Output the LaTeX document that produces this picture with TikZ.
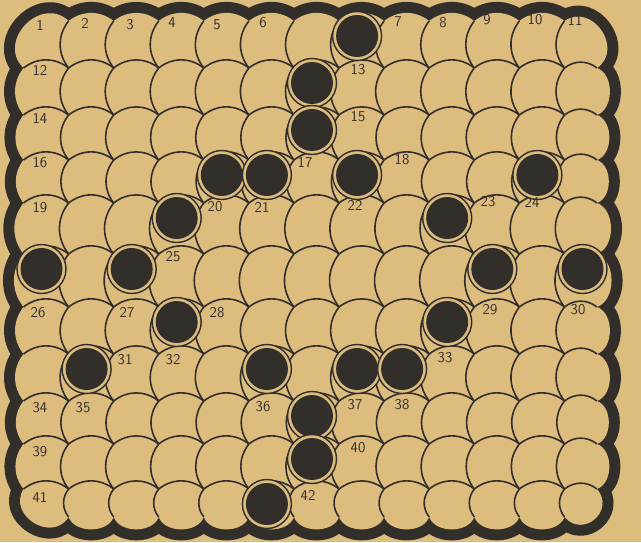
\documentclass[tikz,border=0pt]{standalone}
\definecolor{paper}{RGB}{221,189,126}
\definecolor{ink}{RGB}{50,46,42}
\tikzset{
  cellline/.style={draw=ink, line width=1.6pt},
  rimline/.style={preaction={draw=ink, line width=22pt, line join=round}, fill=paper},
  blackring/.style={draw=ink, fill=paper, line width=1.4pt},
  blackcore/.style={fill=ink},
  lbl/.style={font=\sffamily\fontsize{15}{15}\selectfont, text=ink, inner sep=0pt},
  sb/.style={bend left=38},
  rb/.style={bend left=70},
  cb/.style={bend left=90, looseness=1.5}
}
\begin{document}
\begin{tikzpicture}[x=1pt,y=1pt]
\def\H{542}
\useasboundingbox (0,0) rectangle (641,542);
\fill[paper] (0,0) rectangle (641,542);
\foreach \i/\xx in {0/23.5,1/68.6,2/113.7,3/158.7,4/203.8,5/248.9,6/294.0,7/339.1,8/384.1,9/429.2,10/474.3,11/519.4,12/564.5,13/597}{
  \foreach \j/\yy in {0/21,1/68,2/115,3/160,4/203,5/254,6/307,7/354,8/401,9/444,10/489,11/517}{
    \coordinate (J-\i-\j) at (\xx,\H-\yy);
}}
% outer rim
\path[rimline] (J-1-0)
  \foreach \i in {2,...,12}{ to[sb] (J-\i-0) }
  to[cb] (J-13-1)
  \foreach \j in {2,...,10}{ to[rb] (J-13-\j) }
  to[cb, looseness=1.7] (J-12-11)
  \foreach \i in {11,...,1}{ to[rb] (J-\i-11) }
  to[cb] (J-0-10)
  \foreach \j in {9,...,1}{ to[sb] (J-0-\j) }
  to[cb] (J-1-0) -- cycle;
% column boundaries
\foreach \i in {1,...,12}{\foreach \j in {0,...,10}{
  \pgfmathtruncatemacro\jj{\j+1}
  \draw[cellline] (J-\i-\jj) to[sb] (J-\i-\j);
}}
% row boundaries
\foreach \j in {1,...,10}{\foreach \i in {0,...,12}{
  \pgfmathtruncatemacro\ii{\i+1}
  \draw[cellline] (J-\i-\j) to[sb] (J-\ii-\j);
}}
% black cells
\foreach \ro/\co in {1/8,2/7,3/7,4/5,4/6,4/8,4/12,5/4,5/10,6/1,6/3,6/11,6/13,7/4,7/10,8/2,8/6,8/8,8/9,9/7,10/7,11/6}{
  \pgfmathtruncatemacro\rm{\ro-1}
  \pgfmathtruncatemacro\cm{\co-1}
  \coordinate (B-\ro-\co) at ([shift={(18,-15)}]J-\cm-\rm);
  \draw[blackring] (B-\ro-\co) circle[radius=24.5pt];
  \fill[blackcore] (B-\ro-\co) circle[radius=21pt];
}
% labels
\foreach \n/\px/\py in {1/40/25,2/85/23,3/130/25,4/172/23,5/217/25,6/263/23,7/398/22,8/443/23,9/487/20,10/535/20,11/575/20,
  12/40/70,13/358/70,14/40/118,15/358/117,16/40/163,17/305/163,18/402/160,
  19/40/208,20/215/207,21/262/207,22/355/205,23/488/202,24/532/202,25/173/257,
  26/38/313,27/127/313,28/217/313,29/490/310,30/578/310,31/125/360,32/173/360,33/445/358,
  34/40/408,35/83/408,36/263/407,37/355/405,38/402/405,39/40/452,40/358/448,41/40/497,42/308/495}{
  \node[lbl] (L\n) at (\px,\H-\py) {\n};
}
\end{tikzpicture}
\end{document}
